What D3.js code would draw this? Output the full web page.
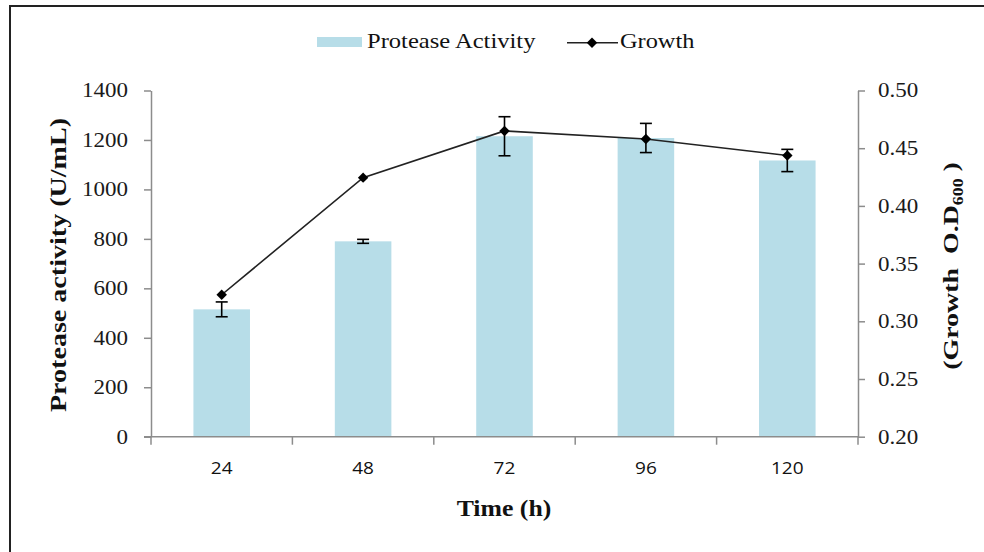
<!DOCTYPE html>
<html>
<head>
<meta charset="utf-8">
<script src="https://cdn.jsdelivr.net/npm/d3@7"></script>
<style>
  body { margin: 0; background: #fff; }
  text { font-family: "Liberation Serif", "Times New Roman", serif; }
</style>
</head>
<body>
<div id="chart"></div>
<script>
// data
let times = ["24", "48", "72", "96", "120"];
let protease = [515, 790, 1215, 1208, 1117];
let protease_err = [30, 8, 79, 59, 45];
let growth = [0.323, 0.4245, 0.465, 0.458, 0.4437];
let left_ticks = [0, 200, 400, 600, 800, 1000, 1200, 1400];
let right_ticks = [0.2, 0.25, 0.3, 0.35, 0.4, 0.45, 0.5];

let width = 984;
let height = 552;
let left = 151;
let right = 858;
let top_y = 90.5;
let bottom_y = 436.7;
let stretch_x = 1.15; // glyphs in the picture are wider than normal

let svg = d3
  .select("#chart")
  .append("svg")
  .attr("width", width)
  .attr("height", height);

// outer frame, runs off the right and bottom edges
svg
  .append("rect")
  .attr("x", 10)
  .attr("y", 6)
  .attr("width", 1000)
  .attr("height", 600)
  .style("fill", "#fff")
  .style("stroke", "#222")
  .style("stroke-width", 2);

let x = d3.scaleBand().domain(times).range([left, right]).padding(0);
let y_left = d3.scaleLinear().domain([0, 1400]).range([bottom_y, top_y]);
let y_right = d3.scaleLinear().domain([0.2, 0.5]).range([bottom_y, top_y]);
let bar_w = x.bandwidth() / 2.5;

// stretch text horizontally in its own frame
function stretch(sel, sx) {
  sel.each(function () {
    let t = d3.select(this);
    let tx = +t.attr("x") || 0;
    t.attr("x", tx / sx);
    let old = t.attr("transform") || "";
    t.attr("transform", old + " scale(" + sx + ",1)");
  });
}

// bars
svg
  .selectAll(".bar")
  .data(protease)
  .enter()
  .append("rect")
  .attr("class", "bar")
  .attr("x", (d, i) => x(times[i]) + x.bandwidth() / 2 - bar_w / 2)
  .attr("y", (d) => y_left(d))
  .attr("width", bar_w)
  .attr("height", (d) => bottom_y - y_left(d))
  .style("fill", "#b7dde8");

// axes
let axis_color = "#8c8c8c";

let g_left = svg
  .append("g")
  .attr("transform", "translate(" + left + ",0)")
  .call(
    d3
      .axisLeft(y_left)
      .tickValues(left_ticks)
      .tickFormat(d3.format("d"))
      .tickSize(7)
      .tickPadding(16)
      .tickSizeOuter(0)
  );

let g_right = svg
  .append("g")
  .attr("transform", "translate(" + right + ",0)")
  .call(
    d3
      .axisRight(y_right)
      .tickValues(right_ticks)
      .tickFormat(d3.format(".2f"))
      .tickSize(7)
      .tickPadding(13)
      .tickSizeOuter(0)
  );

let band_edges = times.map((t) => x(t)).concat([right]);
let g_bottom = svg.append("g").attr("transform", "translate(0," + bottom_y + ")");
g_bottom
  .append("line")
  .attr("x1", left - 7)
  .attr("x2", right)
  .attr("y1", 0)
  .attr("y2", 0);
g_bottom
  .selectAll(".xtick")
  .data(band_edges)
  .enter()
  .append("line")
  .attr("class", "xtick")
  .attr("x1", (d) => d)
  .attr("x2", (d) => d)
  .attr("y1", 0)
  .attr("y2", 8);
g_bottom
  .selectAll(".xlabel")
  .data(times)
  .enter()
  .append("text")
  .attr("class", "xlabel")
  .attr("x", (d) => x(d) + x.bandwidth() / 2)
  .attr("y", 37)
  .attr("text-anchor", "middle")
  .style("font-family", "'Open Sans', 'Liberation Sans', sans-serif")
  .style("font-size", "17px")
  .style("fill", "#111")
  .text((d) => d)
  .call(stretch, 1.12);

[g_left, g_right].forEach(function (g) {
  g.select(".domain").style("stroke", axis_color).style("stroke-width", 1.5);
  g.selectAll(".tick line").style("stroke", axis_color).style("stroke-width", 1.5);
  g.selectAll(".tick text")
    .style("font-family", "'Liberation Serif', serif")
    .style("font-size", "20px")
    .style("fill", "#1a1a1a")
    .call(stretch, stretch_x);
});
g_bottom.selectAll("line").style("stroke", axis_color).style("stroke-width", 1.5);

// error bars on the protease bars
let cap = 6;
let err = svg.append("g").attr("class", "errors");
protease.forEach(function (v, i) {
  let cx = x(times[i]) + x.bandwidth() / 2;
  let y1 = y_left(v + protease_err[i]);
  let y2 = y_left(v - protease_err[i]);
  err.append("line").attr("x1", cx).attr("x2", cx).attr("y1", y1).attr("y2", y2);
  err.append("line").attr("x1", cx - cap).attr("x2", cx + cap).attr("y1", y1).attr("y2", y1);
  err.append("line").attr("x1", cx - cap).attr("x2", cx + cap).attr("y1", y2).attr("y2", y2);
});
err.selectAll("line").style("stroke", "#000").style("stroke-width", 1.6);

// growth line
let line = d3
  .line()
  .x((d, i) => x(times[i]) + x.bandwidth() / 2)
  .y((d) => y_right(d));

svg
  .append("path")
  .datum(growth)
  .attr("d", line)
  .style("fill", "none")
  .style("stroke", "#222")
  .style("stroke-width", 1.6);

let diamond = d3.symbol().type(d3.symbolDiamond2).size(70);
svg
  .selectAll(".pt")
  .data(growth)
  .enter()
  .append("path")
  .attr("class", "pt")
  .attr("d", diamond)
  .attr("transform", (d, i) => "translate(" + (x(times[i]) + x.bandwidth() / 2) + "," + y_right(d) + ")")
  .style("fill", "#000");

// axis titles
svg
  .append("text")
  .attr("transform", "translate(66,265) rotate(-90)")
  .attr("text-anchor", "middle")
  .style("font-size", "24px")
  .style("font-weight", "bold")
  .style("fill", "#111")
  .text("Protease activity (U/mL)")
  .call(stretch, 1.17);

let rt = svg
  .append("text")
  .attr("transform", "translate(958,266) rotate(-90)")
  .attr("text-anchor", "middle")
  .style("font-size", "22px")
  .style("font-weight", "bold")
  .style("fill", "#111")
  .style("white-space", "pre");
rt.append("tspan").text("(Growth  O.D");
rt.append("tspan").attr("dy", 5).style("font-size", "14px").text("600");
rt.append("tspan").attr("dy", -5).text(" )");
rt.call(stretch, 1.27);

svg
  .append("text")
  .attr("x", 504)
  .attr("y", 516)
  .attr("text-anchor", "middle")
  .style("font-size", "23px")
  .style("font-weight", "bold")
  .style("fill", "#111")
  .text("Time (h)")
  .call(stretch, 1.12);

// legend
let legend = svg.append("g").attr("class", "legend");
legend
  .append("rect")
  .attr("x", 317)
  .attr("y", 37)
  .attr("width", 45)
  .attr("height", 10)
  .style("fill", "#b7dde8");
legend
  .append("text")
  .attr("x", 367)
  .attr("y", 48)
  .style("font-size", "21px")
  .style("fill", "#111")
  .text("Protease Activity")
  .call(stretch, 1.17);
legend
  .append("line")
  .attr("x1", 567)
  .attr("x2", 618)
  .attr("y1", 42.7)
  .attr("y2", 42.7)
  .style("stroke", "#222")
  .style("stroke-width", 1.6);
legend
  .append("path")
  .attr("d", diamond)
  .attr("transform", "translate(592,42.7)")
  .style("fill", "#000");
legend
  .append("text")
  .attr("x", 620)
  .attr("y", 48)
  .style("font-size", "21px")
  .style("fill", "#111")
  .text("Growth")
  .call(stretch, 1.16);
</script>
</body>
</html>
